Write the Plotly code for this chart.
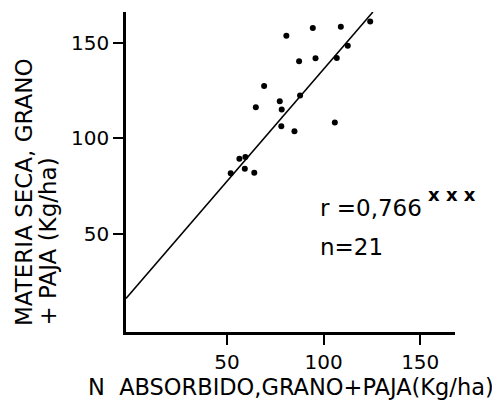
import plotly.graph_objects as go

# Data
n_absorbido = [80.7, 94.4, 108.9, 124.1, 112.5, 106.8, 87.3, 95.8, 69.2, 87.8, 64.9,
               77.3, 78.3, 78.1, 84.9, 105.8, 56.4, 59.5, 59.2, 51.9, 64.1]
materia_seca = [153.6, 157.6, 158.3, 161.1, 148.4, 142.0, 140.3, 141.8, 127.4, 122.4, 116.3,
                119.4, 115.1, 106.4, 103.8, 108.3, 89.4, 90.3, 84.2, 81.9, 82.1]
reg_intercept = 19.2
reg_slope = 1.17
reg_x = [-2.3, 125.5]
reg_y = [reg_intercept + reg_slope * v for v in reg_x]
tick_vals = [50, 100, 150]
tick_text = ["50", "100", "150"]

FONT = "DejaVu Sans"

fig = go.Figure()
fig.add_trace(go.Scatter(x=reg_x, y=reg_y, mode="lines",
                         line=dict(color="black", width=1.5), showlegend=False, hoverinfo="skip"))
fig.add_trace(go.Scatter(x=n_absorbido, y=materia_seca, mode="markers",
                         marker=dict(color="black", size=6), showlegend=False))

fig.add_annotation(x=0.584, y=0.3875, xref="paper", yref="paper", xanchor="left", yanchor="middle",
                   text="r =0,766", showarrow=False, font=dict(family=FONT, size=23, color="black"))
fig.add_annotation(x=0.912, y=0.43, xref="paper", yref="paper", xanchor="left", yanchor="middle",
                   text="<b>x x x</b>", showarrow=False, font=dict(family=FONT, size=18, color="black"))
fig.add_annotation(x=0.584, y=0.266, xref="paper", yref="paper", xanchor="left", yanchor="middle",
                   text="n=21", showarrow=False, font=dict(family=FONT, size=23, color="black"))

# Axis titles as annotations for exact placement
fig.add_annotation(x=-0.31, y=0.0125, xref="paper", yref="paper", xanchor="center", yanchor="bottom",
                   text="MATERIA SECA, GRANO", textangle=-90, showarrow=False,
                   font=dict(family=FONT, size=23, color="black"))
fig.add_annotation(x=-0.2386, y=0.0125, xref="paper", yref="paper", xanchor="center", yanchor="bottom",
                   text="+ PAJA (Kg/ha)", textangle=-90, showarrow=False,
                   font=dict(family=FONT, size=23, color="black"))
fig.add_annotation(x=0.5015, y=-0.172, xref="paper", yref="paper", xanchor="center", yanchor="middle",
                   text="N  ABSORBIDO,GRANO+PAJA(Kg/ha)", showarrow=False,
                   font=dict(family=FONT, size=22.5, color="black"))

# The page body has an 8px margin, so the figure is offset by 8px.
fig.update_layout(
    width=492, height=394,
    margin=dict(l=118, r=45, t=4, b=70),
    paper_bgcolor="white", plot_bgcolor="white",
    font=dict(family=FONT, size=20, color="black"),
    xaxis=dict(range=[-2.3, 168], tickvals=tick_vals, ticktext=tick_text, automargin=False,
               tickfont=dict(family=FONT, size=20, color="black"),
               showgrid=False, zeroline=False, showline=True, linecolor="black", linewidth=2.5,
               ticks="outside", ticklen=10, tickwidth=1.5, tickcolor="black"),
    yaxis=dict(range=[-1, 166], tickvals=tick_vals, ticktext=tick_text, automargin=False,
               tickfont=dict(family=FONT, size=20, color="black"),
               showgrid=False, zeroline=False, showline=True, linecolor="black", linewidth=2.5,
               ticks="outside", ticklen=10, tickwidth=1.5, tickcolor="black"),
)

fig.write_html("out.html")
